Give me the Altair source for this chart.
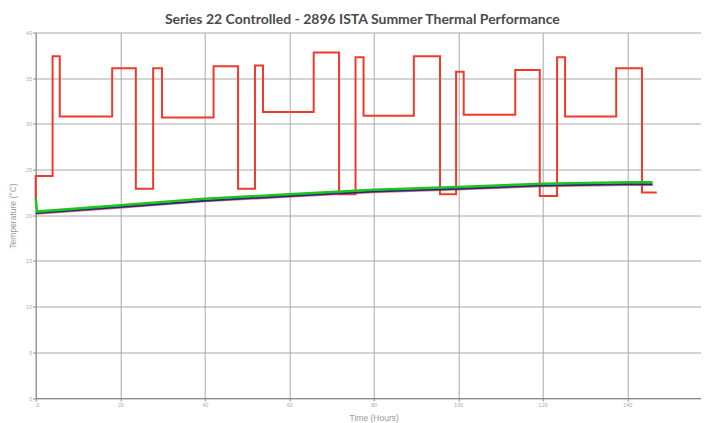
import altair as alt
import pandas as pd

# Ambient (step profile): change times (h) and levels (°C)
step_t = [0, 0, 4.0, 5.7, 18.1, 23.7, 27.8, 29.9, 42.1, 47.9, 51.9, 53.8, 65.8, 71.8,
          75.7, 77.6, 89.5, 95.7, 99.5, 101.3, 113.5, 119.3, 123.4, 125.3, 137.4, 143.5, 147.0]
step_v = [21.9, 24.3, 37.4, 30.8, 36.1, 22.9, 36.1, 30.7, 36.3, 22.9, 36.4, 31.3, 37.8, 22.3,
          37.3, 30.9, 37.4, 22.3, 35.7, 31.0, 35.9, 22.1, 37.3, 30.8, 36.1, 22.5, 22.5]

# Product temperature curves
curve_t = [0, 0.3, 20, 40, 60, 80, 100, 120, 140, 146]
green_v = [21.9, 20.4, 21.1, 21.8, 22.3, 22.8, 23.1, 23.45, 23.6, 23.6]
navy_v = [20.25, 20.25, 20.9, 21.6, 22.1, 22.6, 22.9, 23.25, 23.4, 23.4]
red_v = [20.2, 20.2, 20.85, 21.55, 22.05, 22.55, 22.85, 23.2, 23.35, 23.35]

x_ticks = [0, 20, 40, 60, 80, 100, 120, 140, 160]
y_ticks = [0, 5, 10, 15, 20, 25, 30, 35, 40]

step_df = pd.DataFrame({"t": step_t, "v": step_v, "i": range(len(step_t))})
curves_df = pd.DataFrame({
    "t": curve_t * 3,
    "v": green_v + navy_v + red_v,
    "s": ["green"] * len(curve_t) + ["navy"] * len(curve_t) + ["red"] * len(curve_t),
    "i": list(range(len(curve_t))) * 3,
})

label_font = "Liberation Sans"
xscale = alt.Scale(domain=[0, 160], range=[0, 676], nice=False)
yscale = alt.Scale(domain=[0, 40], nice=False)

xaxis = alt.Axis(values=x_ticks, title="Time (Hours)", titleX=338, titleY=19.5,
                 titleBaseline="middle", titleAlign="center")
yaxis = alt.Axis(values=y_ticks, title="Temperature (°C)", titleX=-23, titleY=183,
                 titleAngle=270, titleBaseline="middle", titleAlign="center")

def enc(ch):
    return ch.encode(
        x=alt.X("t:Q", scale=xscale, axis=xaxis),
        y=alt.Y("v:Q", scale=yscale, axis=yaxis),
        order=alt.Order("i:Q"),
    )

step = enc(alt.Chart(step_df).mark_line(interpolate="step-after", color="#ee3b2b", strokeWidth=2))
red = enc(alt.Chart(curves_df).transform_filter(alt.datum.s == "red")
          .mark_line(color="#e8413a", strokeWidth=2.5, opacity=0.7))
navy = enc(alt.Chart(curves_df).transform_filter(alt.datum.s == "navy")
           .mark_line(color="#1f2a80", strokeWidth=2))
green = enc(alt.Chart(curves_df).transform_filter(alt.datum.s == "green")
            .mark_line(color="#1ec41e", strokeWidth=2.5))

chart = alt.layer(step, red, navy, green).properties(
    width=665.3,
    height=365.5,
    autosize=alt.AutoSizeParams(type="none"),
    padding={"left": 27.7, "top": 24.5, "right": 0, "bottom": 25},
    title=alt.TitleParams(
        text="Series 22 Controlled - 2896 ISTA Summer Thermal Performance",
        font="Lato", fontSize=14, fontWeight="bold", color="#4a4a4a",
        frame="group", offset=-7, baseline="alphabetic", dx=-6, anchor="middle",
    ),
).configure_view(stroke=None).configure_axis(
    grid=True, gridColor="#a8a8a8", gridWidth=1,
    domainColor="#8a8a8a", domainWidth=1,
    tickColor="#8a8a8a", tickSize=3, tickWidth=1,
    labelFont=label_font, labelFontSize=5.5, labelColor="#aaaaaa", labelPadding=1,
    titleFont=label_font, titleFontSize=8.5, titleColor="#9a9a9a", titleFontWeight="normal",
)

chart.save("out.html", embed_options={"renderer": "svg", "actions": False})
